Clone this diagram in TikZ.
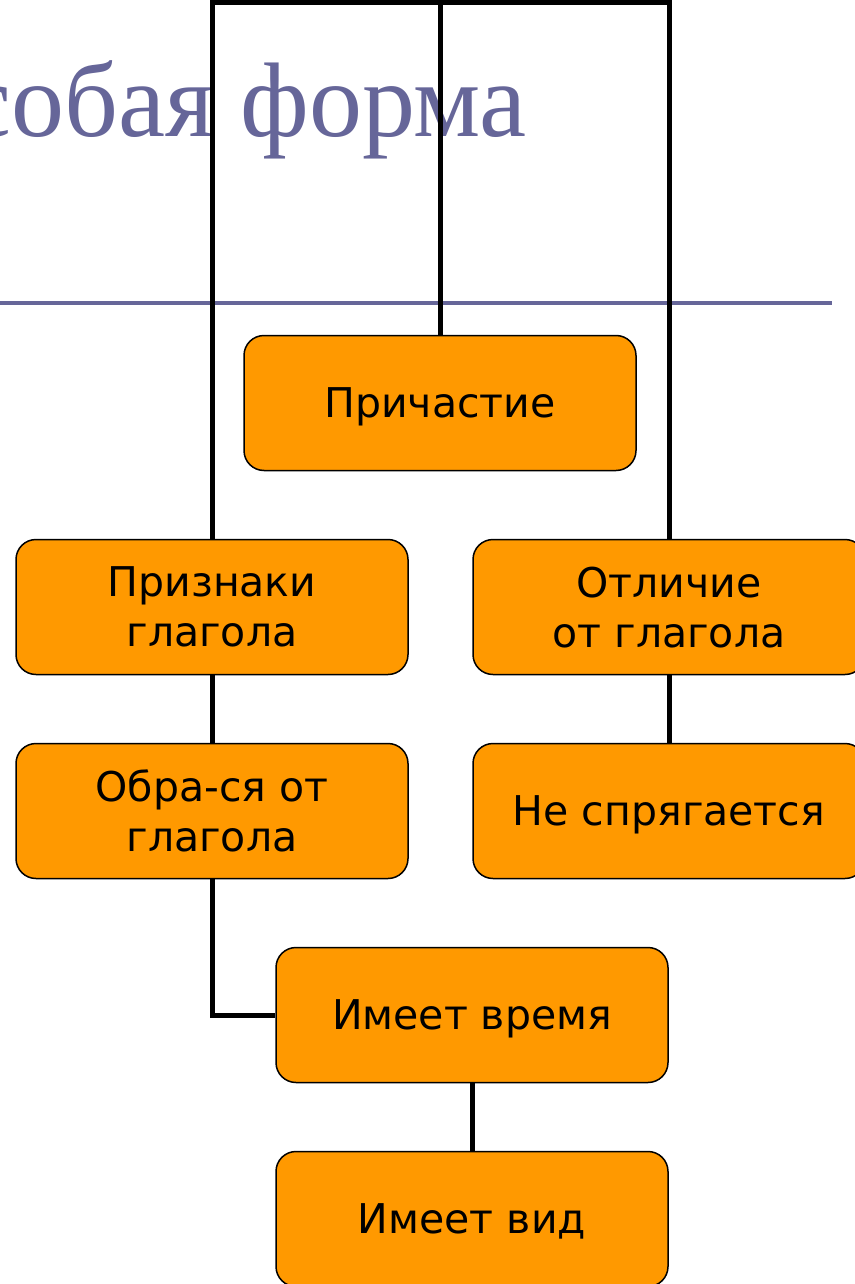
\documentclass[tikz,border=0pt]{standalone}
\usepackage{fontspec}
\setmainfont{Liberation Serif}
\newfontfamily\boxfont{DejaVu Sans}
\usetikzlibrary{positioning}

\definecolor{titlecol}{RGB}{102,102,153}
\definecolor{boxcol}{RGB}{255,153,0}
\pgfdeclarelayer{back}
\pgfdeclarelayer{lines}
\pgfsetlayers{back,lines,main}

\begin{document}
\begin{tikzpicture}[x=1pt,y=-1pt,
    box/.style={draw=black,line width=1.5pt,fill=boxcol,rounded corners=20pt,
      minimum width=392pt,minimum height=135pt,align=center,text depth=0pt,
      font=\boxfont\fontsize{41}{50}\selectfont},
    link/.style={line width=5pt}]
      \useasboundingbox (0,0) rectangle (854,1284);
      % boxes
      \node[box] (prich) at (440,403) {Причастие};
      \node[box] (priz) at (212,607) {Признаки\\глагола};
      \node[box] (otl) at (669,607) {Отличие\\от глагола};
      \node[box] (obr) at (212,811) {Обра-ся от\\глагола};
      \node[box] (nespr) at (669,811) {Не спрягается};
      \node[box] (vrem) at (472,1015) {Имеет время};
      \node[box] (vid) at (472,1219) {Имеет вид};

      % title, behind everything
      \begin{pgfonlayer}{back}
      \node[anchor=base east,inner sep=0pt,text=titlecol,font=\fontsize{106}{110}\selectfont] (title) at (527,137) {Особая форма};
      \draw[titlecol,line width=4pt] (0,303) -- (832,303);
      \end{pgfonlayer}

      \coordinate (bus) at (0,3);
      \begin{pgfonlayer}{lines}
      \draw[link] (priz.north) -- (priz.north |- bus) -- (otl.north |- bus) -- (otl.north);
      \draw[link] (prich.north) -- (prich.north |- bus);
      \draw[link] (priz) -- (obr);
      \draw[link] (otl) -- (nespr);
      \draw[link] (obr.south) |- (vrem.west);
      \draw[link] (vrem) -- (vid);
      \end{pgfonlayer}
\end{tikzpicture}
\end{document}
